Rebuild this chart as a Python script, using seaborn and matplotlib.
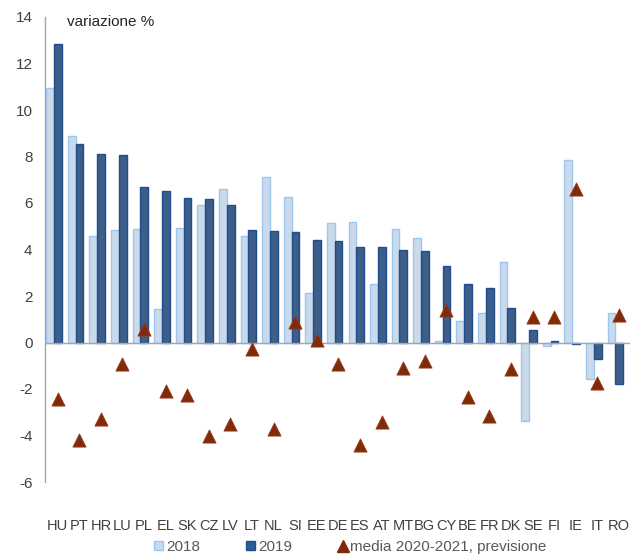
import numpy as np
import pandas as pd
import matplotlib
matplotlib.use("Agg")
import matplotlib.pyplot as plt
import seaborn as sns
from matplotlib.lines import Line2D
from matplotlib.patches import Patch

paesi = ["HU", "PT", "HR", "LU", "PL", "EL", "SK", "CZ", "LV", "LT", "NL", "SI", "EE", "DE",
         "ES", "AT", "MT", "BG", "CY", "BE", "FR", "DK", "SE", "FI", "IE", "IT", "RO"]
# il grafico originale ha 27 paesi
v2018 = [10.96, 8.87, 4.58, 4.83, 4.87, 1.42, 4.94, 5.90, 6.62, 4.58, 7.13, 6.26, 2.13, 5.13,
         5.17, 2.53, 4.90, 4.50, 0.07, 0.93, 1.25, 3.48, -3.37, -0.14, 7.84, -1.58, 1.25]
v2019 = [12.84, 8.55, 8.09, 8.05, 6.67, 6.50, 6.22, 6.18, 5.90, 4.86, 4.81, 4.77, 4.41, 4.37,
         4.12, 4.12, 4.00, 3.95, 3.31, 2.53, 2.36, 1.48, 0.52, 0.05, -0.07, -0.69, -1.78]
media_20_21 = [-2.45, -4.19, -3.29, -0.92, 0.59, -2.10, -2.25, -4.00, -3.52, -0.27, -3.74, 0.90,
               0.09, -0.93, -4.41, -3.40, -1.09, -0.78, 1.41, -2.33, -3.15, -1.15, 1.08, 1.09,
               6.61, -1.74, 1.19]

df = pd.DataFrame({"paese": paesi * 2,
                   "anno": ["2018"] * len(paesi) + ["2019"] * len(paesi),
                   "valore": v2018 + v2019})

c2018 = "#C6D9F0"
e2018 = "#9DC6F0"
c2019 = "#2F5D95"
e2019 = "#1F4E8C"
c_tri = "#7F2A0A"
grigio = "#595959"

plt.rcParams["font.family"] = ["Liberation Sans", "DejaVu Sans"]
plt.rcParams["axes.unicode_minus"] = False

fig = plt.figure(figsize=(6.35, 5.58), dpi=100)
ax = fig.add_axes([45 / 635, 1 - 482 / 558, 585 / 635, 465 / 558])

sns.barplot(data=df, x="paese", y="valore", hue="anno", order=paesi,
            palette={"2018": c2018, "2019": c2019}, width=0.72, ax=ax, legend=False)
for p in ax.patches:
    p.set_edgecolor(e2018 if p.get_facecolor()[0] > 0.5 else e2019)
    p.set_linewidth(1.0)

off = 0.17
xs = np.arange(len(paesi)) + off
sns.scatterplot(x=xs, y=media_20_21, marker="^", s=90, color=c_tri,
                edgecolor="#9A3B1A", linewidth=0.6, ax=ax, zorder=5, legend=False)

ax.axhline(0, color="#A6A6A6", lw=1.0, zorder=1)
ax.set_ylim(-6, 14)
ax.set_yticks(range(-6, 15, 2))
ax.set_xlim(-0.42, len(paesi) - 0.32)
ax.set_xticks(xs)
ax.set_xticklabels(paesi)
ax.set_xlabel("")
ax.set_ylabel("")
ax.tick_params(axis="y", length=0, pad=9, labelsize=11, labelcolor="#404040")
ax.tick_params(axis="x", length=0, pad=27, labelsize=10.5, labelcolor="#404040")
for s in ["top", "right", "bottom"]:
    ax.spines[s].set_visible(False)
ax.spines["left"].set_color("#A6A6A6")
ax.spines["left"].set_linewidth(1.0)

ax.text(0.038, 0.99, "variazione %", transform=ax.transAxes, fontsize=11,
        color="#262626", va="center", ha="left")

handles = [Patch(facecolor=c2018, edgecolor=e2018, label="2018"),
           Patch(facecolor=c2019, edgecolor=e2019, label="2019"),
           Line2D([], [], marker="^", color=c_tri, linestyle="", markersize=8,
                  label="media 2020-2021, previsione")]
fig.legend(handles=handles, loc="center", bbox_to_anchor=(0.552, 1 - 547 / 558), ncol=3,
           frameon=False, fontsize=11, labelcolor=grigio, handlelength=0.6,
           handleheight=0.6, handletextpad=0.2, columnspacing=3.0)

fig.savefig("out.png", dpi=100)
